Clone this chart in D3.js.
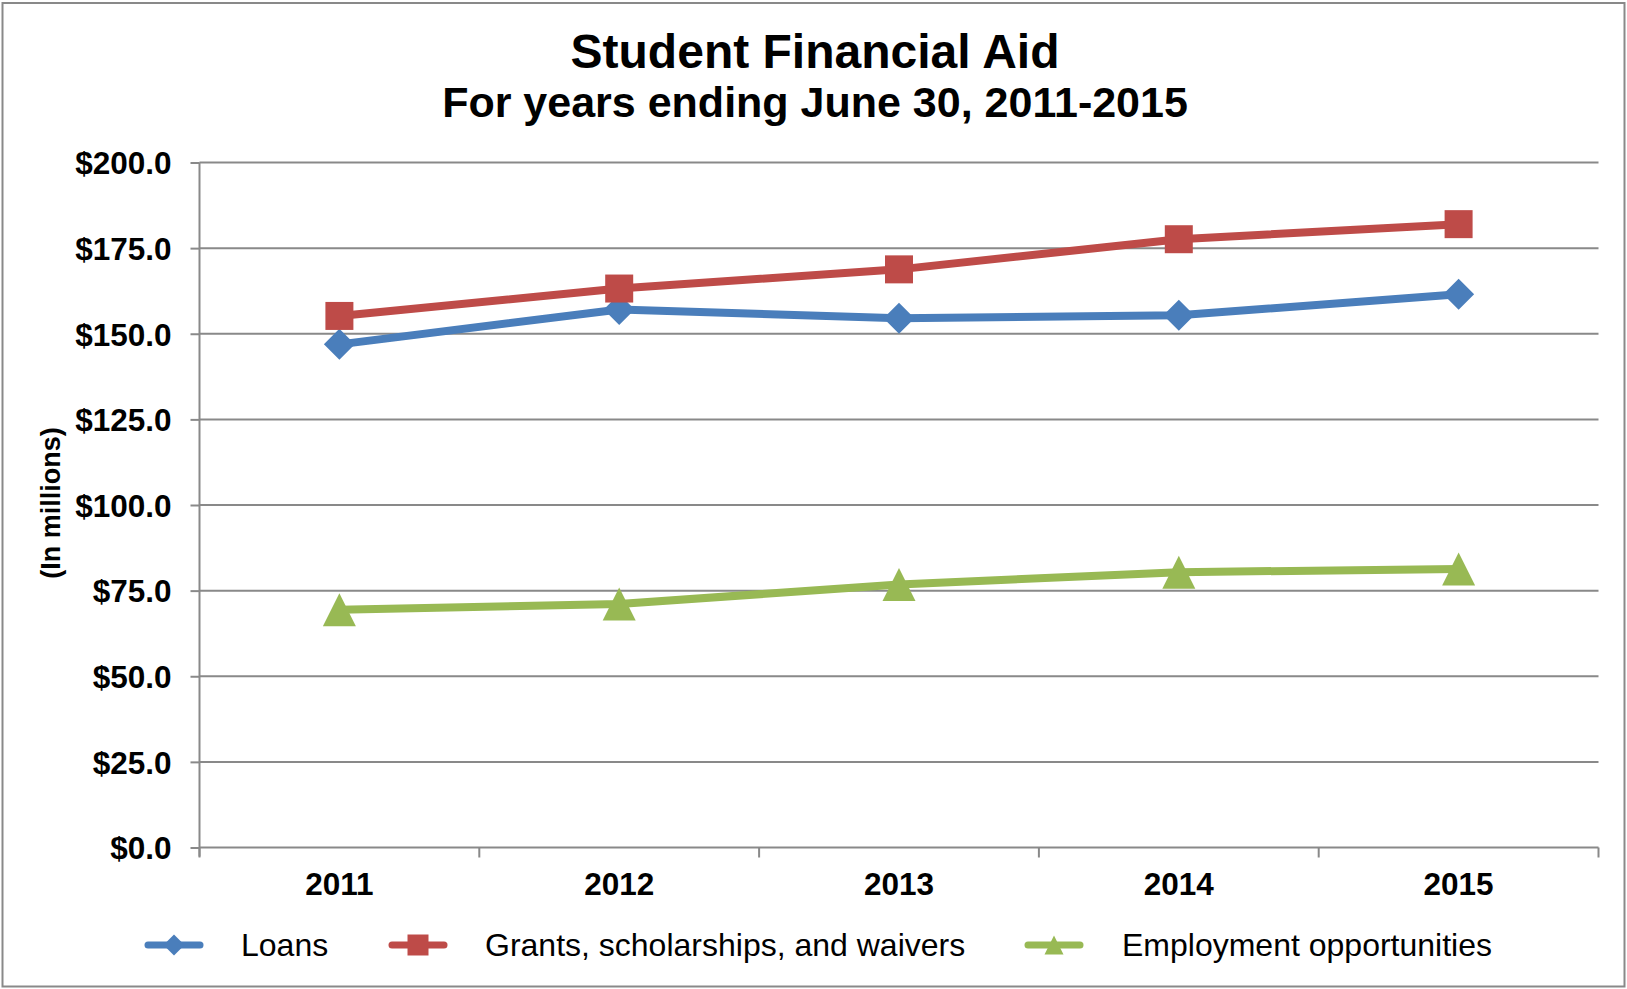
<!DOCTYPE html>
<html>
<head>
<meta charset="utf-8">
<script src="https://cdn.jsdelivr.net/npm/d3@7"></script>
<style>
  html, body { margin: 0; padding: 0; background: #ffffff; }
  svg { display: block; font-family: "Liberation Sans", Arial, sans-serif; }
</style>
</head>
<body>
<svg id="chart" width="1627" height="989"></svg>
<script>
// Fiscal years (ending June 30) and aid amounts in millions of dollars
const years = ["2011", "2012", "2013", "2014", "2015"];
const loans = [146.9, 157.1, 154.5, 155.4, 161.5];
const grants = [155.2, 163.2, 168.8, 177.6, 182.0];
const employment = [69.4, 71.1, 76.8, 80.4, 81.3];
const yTicks = [0, 25, 50, 75, 100, 125, 150, 175, 200];
const seriesNames = ["Loans", "Grants, scholarships, and waivers", "Employment opportunities"];

const W = 1627, H = 989;
const margin = { left: 199.5, right: 1598.5, top: 162.5, bottom: 847.5 };
const gridColor = "#898989";

const svg = d3.select("#chart");

// outer frame
svg.append("rect")
  .attr("x", 2.5).attr("y", 3).attr("width", 1622).attr("height", 983.5)
  .attr("fill", "#fff").attr("stroke", gridColor).attr("stroke-width", 2);

// titles
svg.append("text")
  .attr("x", 815).attr("y", 68).attr("text-anchor", "middle")
  .attr("font-size", 48).attr("font-weight", "bold").attr("fill", "#000")
  .text("Student Financial Aid");
svg.append("text")
  .attr("x", 815).attr("y", 117).attr("text-anchor", "middle")
  .attr("font-size", 43).attr("font-weight", "bold").attr("fill", "#000")
  .text("For years ending June 30, 2011-2015");

// scales
const x = d3.scaleBand().domain(years).range([margin.left, margin.right]).padding(0);
const y = d3.scaleLinear().domain([0, 200]).range([margin.bottom, margin.top]);
const cx = d => x(d) + x.bandwidth() / 2;

// horizontal gridlines
svg.append("g").selectAll("line").data(yTicks.filter(t => t > 0)).join("line")
  .attr("x1", margin.left).attr("x2", margin.right)
  .attr("y1", d => y(d)).attr("y2", d => y(d))
  .attr("stroke", gridColor).attr("stroke-width", 2);

// y axis
const yAxis = d3.axisLeft(y).tickValues(yTicks).tickSize(9).tickPadding(19)
  .tickFormat(d => "$" + d.toFixed(1));
const gy = svg.append("g").attr("transform", `translate(${margin.left},0)`).call(yAxis);
gy.select(".domain").attr("stroke", gridColor).attr("stroke-width", 2)
  .attr("d", `M0,${margin.top}V${margin.bottom + 9}`);
gy.selectAll(".tick line").attr("stroke", gridColor).attr("stroke-width", 2);
gy.selectAll(".tick text")
  .attr("font-size", 31.5).attr("font-weight", "bold").attr("fill", "#000")
  .attr("font-family", "'Liberation Sans', Arial, sans-serif")
  .attr("dy", "0.36em");

// x axis with ticks on the category boundaries
const gx = svg.append("g").attr("transform", `translate(0,${margin.bottom})`);
gx.append("line").attr("x1", margin.left).attr("x2", margin.right)
  .attr("stroke", gridColor).attr("stroke-width", 2);
const boundaries = years.map(d => x(d)).concat([margin.right]);
gx.selectAll("line.tk").data(boundaries).join("line").attr("class", "tk")
  .attr("x1", d => d).attr("x2", d => d).attr("y1", 0).attr("y2", 10)
  .attr("stroke", gridColor).attr("stroke-width", 2);
gx.selectAll("text").data(years).join("text")
  .attr("x", d => cx(d)).attr("y", 47).attr("text-anchor", "middle")
  .attr("font-size", 31.5).attr("font-weight", "bold").attr("fill", "#000")
  .text(d => d);

// y axis title
svg.append("text")
  .attr("transform", "translate(60,503) rotate(-90)")
  .attr("text-anchor", "middle")
  .attr("font-size", 27).attr("font-weight", "bold").attr("fill", "#000")
  .text("(In millions)");

// marker shapes (centered at origin)
const shapes = {
  diamond: s => `M0,${-s / 2}L${s / 2},0L0,${s / 2}L${-s / 2},0Z`,
  square: s => `M${-s / 2},${-s / 2}H${s / 2}V${s / 2}H${-s / 2}Z`,
  triangle: s => `M0,${-s / 2}L${s / 2},${s / 2}H${-s / 2}Z`
};

const series = [
  { name: seriesNames[0], values: loans, color: "#4A7EBB", shape: "diamond", size: 31, legendSize: 21 },
  { name: seriesNames[1], values: grants, color: "#BE4B48", shape: "square", size: 28, legendSize: 21 },
  { name: seriesNames[2], values: employment, color: "#98B954", shape: "triangle", size: 33, legendSize: 19 }
];

const line = d3.line().x((v, i) => cx(years[i])).y(v => y(v));

series.forEach(s => {
  const g = svg.append("g");
  g.append("path").attr("d", line(s.values))
    .attr("fill", "none").attr("stroke", s.color).attr("stroke-width", 8)
    .attr("stroke-linejoin", "round").attr("stroke-linecap", "round");
  g.selectAll("path.mk").data(s.values).join("path").attr("class", "mk")
    .attr("transform", (v, i) => `translate(${cx(years[i])},${y(v)})`)
    .attr("d", shapes[s.shape](s.size))
    .attr("fill", s.color);
});

// legend
const legendY = 945;
const legendItems = [
  { lx: 145, tx: 241 },
  { lx: 389, tx: 485 },
  { lx: 1025, tx: 1122 }
];
series.forEach((s, i) => {
  const it = legendItems[i];
  const g = svg.append("g");
  g.append("line").attr("x1", it.lx + 3).attr("x2", it.lx + 55)
    .attr("y1", legendY).attr("y2", legendY)
    .attr("stroke", s.color).attr("stroke-width", 7).attr("stroke-linecap", "round");
  g.append("path").attr("transform", `translate(${it.lx + 29},${legendY})`)
    .attr("d", shapes[s.shape](s.legendSize)).attr("fill", s.color);
  g.append("text").attr("x", it.tx).attr("y", legendY + 11)
    .attr("font-size", 32).attr("fill", "#000")
    .text(s.name);
});
</script>
</body>
</html>
